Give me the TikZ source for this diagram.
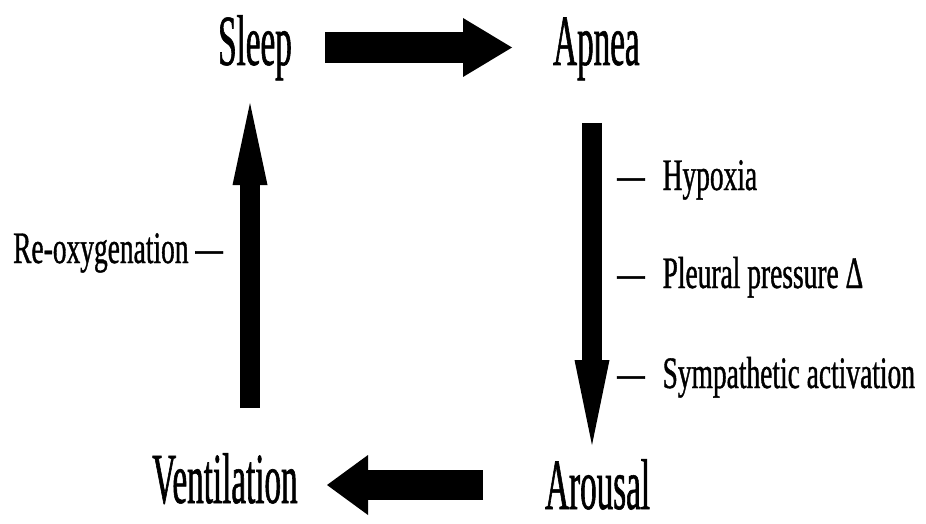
\documentclass[tikz,border=0pt]{standalone}
\usepackage{fontspec}
\setmainfont{Liberation Serif}
\newfontfamily\bigfont{Liberation Serif}[FakeStretch=0.46, FakeBold=0.8]
\newfontfamily\annfont{Liberation Serif}[FakeStretch=0.61, FakeBold=0.8]
\usetikzlibrary{arrows.meta}
\tikzset{
  biglabel/.style={anchor=base west, inner sep=0pt, font=\bigfont\fontsize{72}{80}\selectfont},
  annlabel/.style={anchor=base west, inner sep=0pt, font=\annfont\fontsize{45}{50}\selectfont},
  fatarrow/.style n args={3}{draw=black, line width=#1,
    -{Triangle[length=#2, width=#3, line width=0pt]}},
}
\begin{document}
\begin{tikzpicture}[x=1pt, y=-1pt]
\useasboundingbox (0,0) rectangle (926,524);
% labels
\node[biglabel] (sleep) at (218,65) {Sleep};
\node[biglabel] (apnea) at (553,65) {Apnea};
\node[biglabel] (vent) at (152,503) {Ventilation};
\node[biglabel, text depth=0pt] (arousal) at (545,509) {Arousal};
\node[annlabel] (reox) at (13,263) {Re-oxygenation —};
\node[annlabel] (hyp) at (617,190) {—\hspace{0.4em}Hypoxia};
\node[annlabel] (pleu) at (617,288) {—\hspace{0.4em}Pleural pressure Δ};
\node[annlabel] (symp) at (617,388) {—\hspace{0.4em}Sympathetic activation};
% arrow end points
\coordinate (a1s) at (325,47.5);
\coordinate (a1e) at (512,47.5);
\coordinate (a2s) at (592,123);
\coordinate (a2e) at (592,445);
\coordinate (a3s) at (483,485);
\coordinate (a3e) at (327,485);
\coordinate (a4s) at (250,408);
\coordinate (a4e) at (250,103);
% arrows
\draw[fatarrow={31pt}{49pt}{59pt}] (a1s) -- (a1e);
\draw[fatarrow={20pt}{85pt}{35pt}] (a2s) -- (a2e);
\draw[fatarrow={30pt}{41pt}{60pt}] (a3s) -- (a3e);
\draw[fatarrow={20pt}{82pt}{35pt}] (a4s) -- (a4e);
\end{tikzpicture}
\end{document}
